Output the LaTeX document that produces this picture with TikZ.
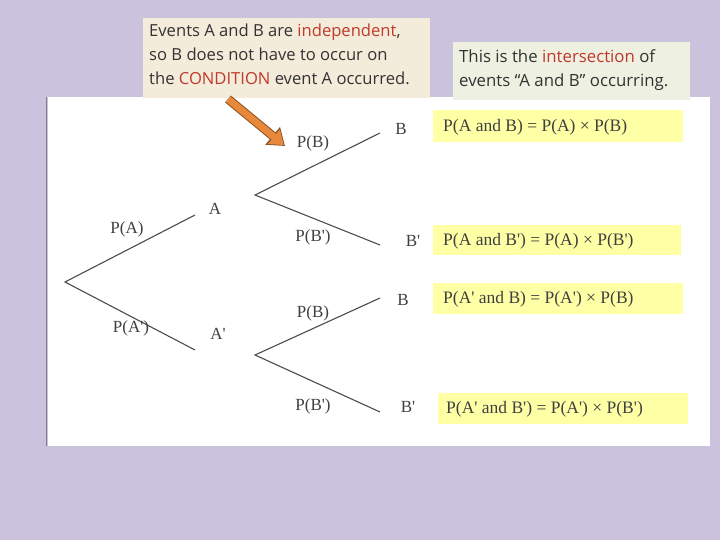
\documentclass[tikz,border=0pt]{standalone}
\usepackage{fontspec}
\setmainfont{Liberation Serif}
\newfontfamily\osans{Open Sans}
\usetikzlibrary{arrows.meta}
\newcommand\pq{\textquotesingle}
\definecolor{bg}{HTML}{CBC2DD}
\definecolor{note}{HTML}{F4ECDA}
\definecolor{note2}{HTML}{EEF1E2}
\definecolor{yel}{HTML}{FFFFA6}
\definecolor{hl}{HTML}{C0392B}
\definecolor{org}{HTML}{E8883A}
\begin{document}
\begin{tikzpicture}[x=1pt,y=-1pt,
  lbl/.style={font=\fontsize{17}{19}\selectfont,text=black!75,inner sep=0},
  flbl/.style={font=\fontsize{17.5}{19}\selectfont,text=black!75,inner sep=0,anchor=west},
  br/.style={draw=black!70,line width=1.1pt},
  fbox/.style={fill=yel,anchor=north west,inner sep=0}]
\useasboundingbox (0,0) rectangle (720,540);
\fill[bg] (0,0) rectangle (720,540);
\fill[white] (48,97) rectangle (710,446);
\draw[gray,line width=1pt] (46,97) -- (46,446);
% notes
\node[fill=note,anchor=north west,minimum width=287,minimum height=80,inner sep=0] (n1) at (143,18) {};
\node[anchor=north west,align=left,inner sep=0,font=\osans\fontsize{16.6}{24}\selectfont,text=black!80] (t1) at (149,24)
 {Events A and B are \textcolor{hl}{independent},\\so B does not have to occur on\\the \textcolor{hl}{CONDITION} event A occurred.};
\node[fill=note2,anchor=north west,minimum width=237,minimum height=58,inner sep=0] (n2) at (453,42) {};
\node[anchor=north west,align=left,inner sep=0,font=\osans\fontsize{16.8}{24}\selectfont,text=black!80] (t2) at (459,49)
 {This is the \textcolor{hl}{intersection} of\\events “A and B” occurring.};
% formula boxes
\node[fbox,minimum width=250,minimum height=32] (f1) at (433,110) {};
\node[flbl] at (443,127) {P(A and B) = P(A) × P(B)};
\node[fbox,minimum width=248,minimum height=30] (f2) at (433,225) {};
\node[flbl] at (443,241) {P(A and B\pq) = P(A) × P(B\pq)};
\node[fbox,minimum width=250,minimum height=31] (f3) at (433,283) {};
\node[flbl] at (443,299) {P(A\pq{} and B) = P(A\pq) × P(B)};
\node[fbox,minimum width=250,minimum height=31] (f4) at (438,393) {};
\node[flbl] at (446,409) {P(A\pq{} and B\pq) = P(A\pq) × P(B\pq)};
% tree
\coordinate (r) at (65,282);
\coordinate (a1) at (195,215); \coordinate (a2) at (195,350);
\coordinate (s1) at (255,195); \coordinate (s2) at (255,355);
\coordinate (b1) at (380,133); \coordinate (b2) at (380,245);
\coordinate (b3) at (380,298); \coordinate (b4) at (380,412);
\draw[br] (a1) -- (r) -- (a2);
\draw[br] (b1) -- (s1) -- (b2);
\draw[br] (b3) -- (s2) -- (b4);
\node[lbl] at (127,229) {P(A)};
\node[lbl] at (131,328) {P(A\pq)};
\node[lbl] at (215,209) {A};
\node[lbl] at (218,334) {A\pq};
\node[lbl] at (313,143) {P(B)};
\node[lbl] at (313,237) {P(B\pq)};
\node[lbl] at (401,129) {B};
\node[lbl] at (413,241) {B\pq};
\node[lbl] at (313,313) {P(B)};
\node[lbl] at (403,300) {B};
\node[lbl] at (313,406) {P(B\pq)};
\node[lbl] at (408,407) {B\pq};
% arrow
\coordinate (p0) at (228,99); \coordinate (p1) at (285,146);
\draw[draw=org!60!black,line width=9pt,-{Triangle[length=16pt,width=22pt]}] (p0) -- (p1);
\draw[org,line width=7pt,-{Triangle[length=13pt,width=18pt]},shorten >=1.5pt] (p0) -- (p1);
\end{tikzpicture}
\end{document}
